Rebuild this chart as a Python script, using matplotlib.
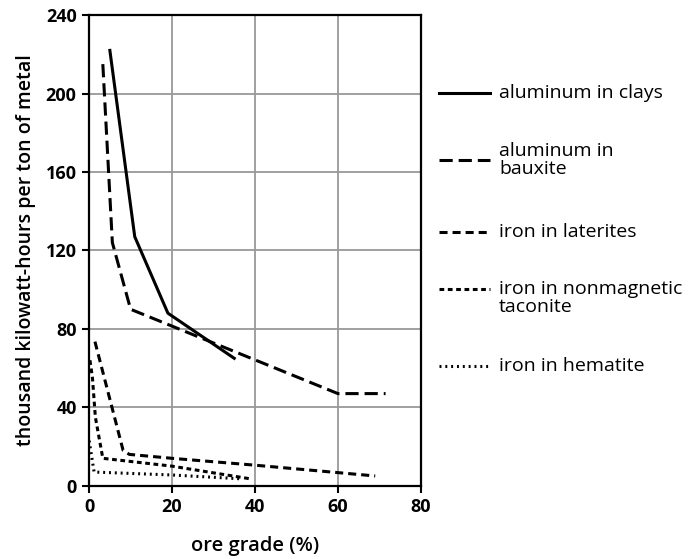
import matplotlib
matplotlib.use("Agg")
import matplotlib.pyplot as plt
from matplotlib.lines import Line2D

plt.rcParams['font.family'] = ['Open Sans', 'DejaVu Sans']
plt.rcParams['lines.scale_dashes'] = False

# values (ore grade %, thousand kWh per ton)
clays_x = [5, 11, 19, 35]
clays_y = [222, 127, 88, 65]

bauxite_x = [3.3, 5.6, 10, 60, 71.5]
bauxite_y = [215, 124, 90, 47, 47]

laterites_x = [1.4, 8.2, 9.7, 20, 40, 69]
laterites_y = [73.5, 18, 16, 14, 10.5, 5]

taconite_x = [0.2, 0.8, 1.5, 3.3, 20, 39]
taconite_y = [64, 55, 35, 14, 10, 3.5]

hematite_x = [0, 1.2, 20, 37]
hematite_y = [23, 7, 5.5, 3.5]

labels = ["aluminum in clays", "aluminum in\nbauxite", "iron in laterites",
          "iron in nonmagnetic\ntaconite", "iron in hematite"]
styles = ['-', (0, (9.5, 4.3)), (0, (5.8, 3.6)), (0, (3.4, 2.6)), (0, (1.4, 2.8))]

W, H = 691, 559
fig = plt.figure(figsize=(W / 100, H / 100), dpi=100)
ax = fig.add_axes([0.129, 0.131, 0.480, 0.842])

lw = 2.2
series = [(clays_x, clays_y), (bauxite_x, bauxite_y), (laterites_x, laterites_y),
          (taconite_x, taconite_y), (hematite_x, hematite_y)]
for (xs, ys), ls, lab in zip(series, styles, labels):
    ax.plot(xs, ys, color='black', lw=lw, linestyle=ls, label=lab)

ax.set_xlim(0, 80)
ax.set_ylim(0, 240)
ax.set_xticks([0, 20, 40, 60, 80])
ax.set_yticks([0, 40, 80, 120, 160, 200, 240])
ax.grid(True, color='#999999', lw=1.3)
ax.set_axisbelow(True)
for s in ax.spines.values():
    s.set_linewidth(1.6)
ax.tick_params(direction='out', length=5, width=1.5, labelsize=13, pad=4)
for t in ax.get_xticklabels() + ax.get_yticklabels():
    t.set_fontweight('bold')

ax.set_xlabel("ore grade (%)", fontsize=14.5, fontweight='semibold', labelpad=14)
ax.set_ylabel("thousand kilowatt-hours per ton of metal", fontsize=14,
              fontweight='semibold', labelpad=7)

# legend drawn by hand so the uneven spacing of the original can be kept
handle_y = [93, 160, 232, 289, 366]
text_y = [93, 160, 232, 298, 366]
for hy, ty, ls, lab in zip(handle_y, text_y, styles, labels):
    fig.add_artist(Line2D([439 / W, 490 / W], [1 - hy / H, 1 - hy / H],
                          color='black', lw=lw, linestyle=ls))
    fig.text(499 / W, 1 - ty / H, lab, fontsize=14, va='center', ha='left',
             linespacing=1.0)

fig.savefig("out.png", dpi=100)
